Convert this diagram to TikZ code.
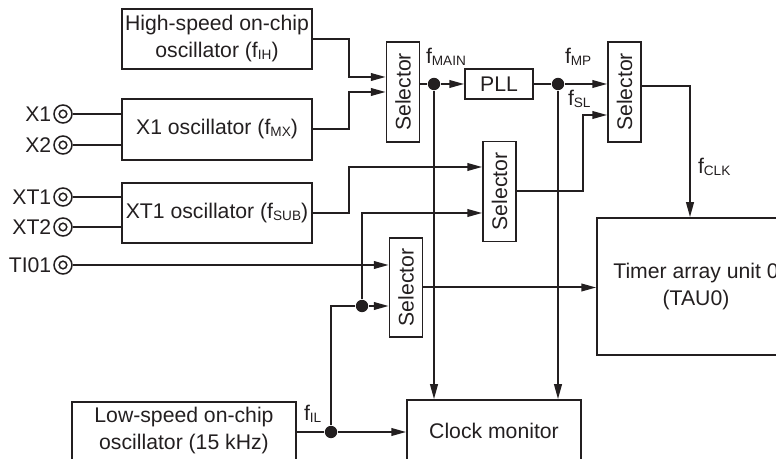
\documentclass[tikz,border=0pt]{standalone}
\usepackage{fontspec}
\setmainfont{Liberation Sans}
\usetikzlibrary{arrows.meta,positioning}
\definecolor{inkgray}{RGB}{35,31,32}
\newcommand{\fsig}[1]{f\raisebox{-0.15ex}{\fontsize{6.8}{7}\selectfont #1}}

\begin{document}
\begin{tikzpicture}[
    x=0.5pt, y=-0.5pt,
    line width=1pt,
    color=inkgray,
    font=\fontsize{10.6}{13.5}\selectfont,
    blk/.style={draw, line width=0.75pt, inner sep=0pt, align=center},
    sel/.style={blk, minimum width=16.5pt, minimum height=50pt},
    term/.style={circle, draw, line width=0.75pt, minimum size=9pt, inner sep=0pt,
        path picture={\draw[line width=0.75pt] (path picture bounding box.center) circle (1.9pt);}},
    dot/.style={circle, fill, inner sep=0pt, minimum size=6.2pt},
    lbl/.style={inner sep=0pt, anchor=base west},
    >={Triangle[length=7.5pt,width=3.8pt]}
]
\useasboundingbox (0,0) rectangle (776,459);
\clip (0,0) rectangle (776,459);

% oscillators
\node[blk, minimum width=95pt, minimum height=30pt] (hoco) at (217,39) {High-speed on-chip\\oscillator (\fsig{IH})};
\node[blk, minimum width=95pt, minimum height=30.5pt] (xosc) at (217,129.5) {X1 oscillator (\fsig{MX})};
\node[blk, minimum width=95pt, minimum height=30pt] (xtosc) at (217,213) {XT1 oscillator (\fsig{SUB})};
\node[blk, minimum width=112pt, minimum height=29pt] (losc) at (184,431) {Low-speed on-chip\\oscillator (15 kHz)};

% selectors and blocks
\node[sel] (sel1) at (403,92) {\rotatebox{90}{Selector}};
\node[sel] (sel2) at (624.5,92) {\rotatebox{90}{Selector}};
\node[sel] (sel3) at (499.5,191.5) {\rotatebox{90}{Selector}};
\node[sel, minimum height=49.5pt] (sel4) at (406,287.5) {\rotatebox{90}{Selector}};
\node[blk, minimum width=34pt, minimum height=15pt] (pll) at (499,84) {PLL};
\node[blk, minimum width=99pt, minimum height=68.5pt] (tau) at (696,286.5) {Timer array unit 0\\(TAU0)};
\node[blk, minimum width=87pt, minimum height=31pt] (cmon) at (494,431) {Clock monitor};

% pins
\node[term] (x1) at (63,114) {};
\node[term] (x2) at (63,145) {};
\node[term] (xt1) at (63,197) {};
\node[term] (xt2) at (63,227) {};
\node[term] (ti01) at (63,265) {};
\node[left=0.5pt of x1, inner sep=0pt] {X1};
\node[left=0.5pt of x2, inner sep=0pt] {X2};
\node[left=0.5pt of xt1, inner sep=0pt] {XT1};
\node[left=0.5pt of xt2, inner sep=0pt] {XT2};
\node[left=0.5pt of ti01, inner sep=0pt] {TI01};

% branch points
\node[dot] (fmain) at (434,84) {};
\node[dot] (fmp) at (558,84) {};
\node[dot] (fil) at (331,432) {};
\node[dot] (jn) at (362,306) {};

% signal names
\node[lbl] (lmain) at (425,64) {\fsig{MAIN}};
\node[lbl] (lmp) at (564,64) {\fsig{MP}};
\node[lbl] (lsl) at (567,106) {\fsig{SL}};
\node[lbl] (lclk) at (697,174) {\fsig{CLK}};
\node[lbl] (lil) at (303,421) {\fsig{IL}};

% connections
\draw (x1) -- (x1 -| xosc.west);
\draw (x2) -- (x2 -| xosc.west);
\draw (xt1) -- (xt1 -| xtosc.west);
\draw (xt2) -- (xt2 -| xtosc.west);
\draw[->] (ti01) -- (ti01 -| sel4.west);

\draw[->] (hoco.east) -- ++(36,0) |- ([yshift=7.5pt]sel1.west);
\draw[->] (xosc.east) -- ++(36,0) |- (sel1.west);
\draw[->] (xtosc.east) -- ++(36,0) |- ([yshift=12.25pt]sel3.west);

\draw (sel1.east |- pll.west) -- (fmain);
\draw[->] (fmain) -- (pll.west);
\draw (pll.east) -- (fmp);
\draw[->] (fmp) -- (fmp -| sel2.west);
\draw[->] (sel3.east) -- ++(66,0) |- ([yshift=-11.5pt]sel2.west);
\draw[->] ([yshift=3pt]sel2.east) -| ([xshift=-3pt]tau.north);

\draw[->] (fmain) -- (fmain |- cmon.north);
\draw[->] (fmp) -- (fmp |- cmon.north);

\draw (losc.east |- fil) -- (fil);
\draw[->] (fil) -- (fil -| cmon.west);
\draw (fil) |- (jn);
\draw[->] (jn) -- (jn -| sel4.west);
\draw[->] (jn) |- ([yshift=-10.75pt]sel3.west);
\draw[->] (sel4.east) -- (sel4.east -| tau.west);
\end{tikzpicture}
\end{document}
